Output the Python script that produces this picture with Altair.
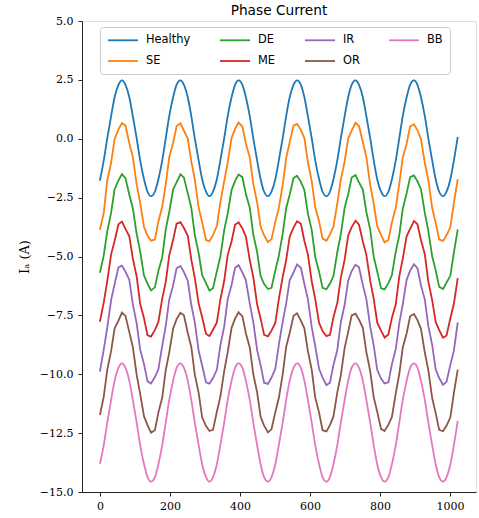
import altair as alt
import pandas as pd

# sample positions (x index)
x_vals = [0, 11, 21, 32, 42, 53, 63, 73, 84, 94, 105, 115, 126, 136, 146, 157, 167, 178, 188, 198,
          209, 219, 230, 240, 251, 261, 271, 282, 292, 303, 313, 323, 334, 344, 355, 365, 376, 386, 396, 407,
          417, 428, 438, 449, 459, 469, 480, 490, 501, 511, 522, 532, 542, 553, 563, 574, 584, 594, 605, 615,
          626, 636, 647, 657, 667, 678, 688, 699, 709, 719, 730, 740, 751, 761, 772, 782, 792, 803, 813, 824,
          834, 845, 855, 865, 876, 886, 897, 907, 917, 928, 938, 949, 959, 969, 980, 990, 1001, 1011, 1022]

healthy = [-1.78, -0.92,
           0.02, 0.96, 1.76, 2.29, 2.48, 2.29, 1.76, 0.96, 0.02, -0.92, -1.72, -2.25, -2.44, -2.25, -1.72, -0.92,
           0.02, 0.96, 1.76, 2.29, 2.48, 2.29, 1.76, 0.96, 0.02, -0.92, -1.72, -2.25, -2.44, -2.25, -1.72, -0.92,
           0.02, 0.96, 1.76, 2.29, 2.48, 2.29, 1.76, 0.96, 0.02, -0.92, -1.72, -2.25, -2.44, -2.25, -1.72, -0.92,
           0.02, 0.96, 1.76, 2.29, 2.48, 2.29, 1.76, 0.96, 0.02, -0.92, -1.72, -2.25, -2.44, -2.25, -1.72, -0.92,
           0.02, 0.96, 1.76, 2.29, 2.48, 2.29, 1.76, 0.96, 0.02, -0.92, -1.72, -2.25, -2.44, -2.25, -1.72, -0.92,
           0.02, 0.96, 1.76, 2.29, 2.48, 2.29, 1.76, 0.96, 0.02, -0.92, -1.72, -2.25, -2.44, -2.25, -1.72, -0.92,
           0.08]

se = [-3.87, -3.15,
      -1.76, -1.02, -0.01, 0.40, 0.67, 0.56, -0.19, -0.78, -1.94, -2.72, -3.75, -4.12, -4.33, -4.28, -3.51, -2.88,
      -1.94, -0.78, -0.19, 0.54, 0.65, 0.34, 0.01, -0.96, -1.74, -2.92, -3.55, -4.30, -4.35, -4.08, -3.71, -2.70,
      -1.80, -1.00, 0.03, 0.42, 0.69, 0.52, -0.21, -0.80, -1.92, -2.70, -3.73, -4.10, -4.39, -4.26, -3.53, -2.94,
      -1.98, -0.82, -0.15, 0.56, 0.63, 0.38, 0.03, -1.00, -1.80, -2.90, -3.51, -4.24, -4.33, -4.06, -3.73, -2.74,
      -1.74, -0.96, 0.01, 0.34, 0.68, 0.54, -0.15, -0.78, -1.96, -2.76, -3.71, -4.08, -4.40, -4.30, -3.55, -2.92,
      -1.92, -0.80, -0.21, 0.52, 0.62, 0.36, -0.01, -1.02, -1.76, -2.94, -3.57, -4.28, -4.34, -4.10, -3.75, -2.72,
      -1.72]

de = [-5.69, -4.95,
      -3.92, -3.15, -2.14, -1.77, -1.50, -1.67, -2.38, -2.95, -4.04, -4.79, -5.81, -6.15, -6.44, -6.31, -5.61, -5.03,
      -3.86, -3.11, -2.16, -1.85, -1.51, -1.65, -2.32, -2.93, -4.08, -4.85, -5.79, -6.13, -6.45, -6.35, -5.63, -5.01,
      -3.88, -3.17, -2.18, -1.79, -1.52, -1.63, -2.36, -2.93, -4.06, -4.81, -5.83, -6.17, -6.38, -6.33, -5.59, -4.97,
      -4.04, -2.95, -2.38, -1.67, -1.57, -1.83, -2.18, -3.17, -3.88, -5.03, -5.65, -6.33, -6.39, -6.15, -5.83, -4.81,
      -4.06, -2.93, -2.36, -1.65, -1.54, -1.85, -2.16, -3.11, -3.86, -5.01, -5.63, -6.35, -6.40, -6.13, -5.79, -4.79,
      -4.10, -2.97, -2.32, -1.63, -1.56, -1.81, -2.14, -3.15, -3.92, -4.99, -5.59, -6.29, -6.38, -6.11, -5.81, -4.83,
      -3.85]

me = [-7.77, -6.95,
      -6.05, -4.91, -4.34, -3.63, -3.52, -3.83, -4.14, -5.09, -5.85, -7.01, -7.62, -8.35, -8.40, -8.13, -7.78, -6.79,
      -6.09, -4.95, -4.30, -3.61, -3.54, -3.79, -4.12, -5.13, -5.91, -6.99, -7.58, -8.29, -8.38, -8.11, -7.80, -6.83,
      -6.03, -4.93, -4.36, -3.65, -3.55, -3.81, -4.16, -5.15, -5.87, -7.03, -7.64, -8.33, -8.39, -8.15, -7.82, -6.81,
      -5.87, -5.15, -4.16, -3.77, -3.50, -3.61, -4.34, -4.91, -6.05, -6.81, -7.82, -8.17, -8.38, -8.33, -7.58, -6.97,
      -5.91, -5.13, -4.12, -3.75, -3.48, -3.65, -4.36, -4.93, -6.03, -6.79, -7.80, -8.15, -8.44, -8.31, -7.60, -7.03,
      -5.85, -5.09, -4.14, -3.83, -3.49, -3.63, -4.30, -4.91, -6.07, -6.85, -7.78, -8.13, -8.45, -8.35, -7.62, -7.01,
      -5.92]

ir = [-9.89, -8.95,
      -8.02, -6.85, -6.17, -5.46, -5.39, -5.64, -5.99, -7.03, -7.84, -8.95, -9.57, -10.30, -10.39, -10.12, -9.79, -8.79,
      -7.96, -6.83, -6.23, -5.50, -5.40, -5.66, -6.03, -7.05, -7.80, -8.99, -9.63, -10.34, -10.40, -10.16, -9.81, -8.77,
      -7.98, -6.81, -6.21, -5.48, -5.37, -5.68, -6.01, -6.99, -7.78, -8.97, -9.61, -10.36, -10.41, -10.14, -9.77, -8.75,
      -7.78, -6.99, -6.01, -5.68, -5.34, -5.48, -6.17, -6.81, -8.00, -8.81, -9.77, -10.14, -10.46, -10.36, -9.61, -8.97,
      -7.80, -7.05, -6.03, -5.62, -5.35, -5.46, -6.21, -6.81, -7.98, -8.77, -9.81, -10.18, -10.39, -10.34, -9.57, -8.93,
      -7.84, -7.03, -5.99, -5.60, -5.33, -5.50, -6.23, -6.83, -7.96, -8.75, -9.79, -10.16, -10.45, -10.32, -9.59, -8.99,
      -7.80]

orr = [-11.73, -10.95,
       -9.81, -9.02, -8.05, -7.72, -7.38, -7.52, -8.21, -8.84, -10.03, -10.83, -11.79, -12.16, -12.48, -12.38, -11.63, -10.99,
       -9.83, -9.08, -8.07, -7.66, -7.39, -7.50, -8.25, -8.84, -10.01, -10.79, -11.83, -12.20, -12.41, -12.36, -11.59, -10.95,
       -9.87, -9.06, -8.03, -7.64, -7.37, -7.54, -8.27, -8.86, -9.99, -10.77, -11.81, -12.18, -12.47, -12.34, -11.61, -11.01,
       -10.01, -8.84, -8.25, -7.52, -7.41, -7.72, -8.05, -9.02, -9.81, -10.99, -11.63, -12.38, -12.43, -12.16, -11.79, -10.77,
       -10.05, -8.88, -8.21, -7.50, -7.43, -7.68, -8.03, -9.06, -9.87, -10.97, -11.59, -12.32, -12.41, -12.14, -11.81, -10.81,
       -9.99, -8.86, -8.27, -7.54, -7.44, -7.70, -8.07, -9.08, -9.83, -11.01, -11.65, -12.36, -12.42, -12.18, -11.83, -10.79,
       -9.80]

bb = [-13.80, -13.01,
      -12.05, -11.09, -10.28, -9.73, -9.54, -9.73, -10.28, -11.09, -12.05, -13.01, -13.82, -14.37, -14.56, -14.37, -13.82, -13.01,
      -12.05, -11.09, -10.28, -9.73, -9.54, -9.73, -10.28, -11.09, -12.05, -13.01, -13.82, -14.37, -14.56, -14.37, -13.82, -13.01,
      -12.05, -11.09, -10.28, -9.73, -9.54, -9.73, -10.28, -11.09, -12.05, -13.01, -13.82, -14.37, -14.56, -14.37, -13.82, -13.01,
      -12.05, -11.09, -10.28, -9.73, -9.54, -9.73, -10.28, -11.09, -12.05, -13.01, -13.82, -14.37, -14.56, -14.37, -13.82, -13.01,
      -12.05, -11.09, -10.28, -9.73, -9.54, -9.73, -10.28, -11.09, -12.05, -13.01, -13.82, -14.37, -14.56, -14.37, -13.82, -13.01,
      -12.05, -11.09, -10.28, -9.73, -9.54, -9.73, -10.28, -11.09, -12.05, -13.01, -13.82, -14.37, -14.56, -14.37, -13.82, -13.01,
      -11.98]

series_names = ["Healthy", "SE", "DE", "ME", "IR", "OR", "BB"]
series_values = [healthy, se, de, me, ir, orr, bb]
series_colors = ["#1f77b4", "#ff7f0e", "#2ca02c", "#d62728", "#9467bd", "#8c564b", "#e377c2"]
smooth_series = ["Healthy", "BB"]

x_ticks = [0, 200, 400, 600, 800, 1000]
y_ticks = [-15.0, -12.5, -10.0, -7.5, -5.0, -2.5, 0.0, 2.5, 5.0]

rows = []
for i, (name, vals) in enumerate(zip(series_names, series_values)):
    for xv, yv in zip(x_vals, vals):
        rows.append({"x": xv, "y": yv, "series": name, "order": i,
                     "smooth": name in smooth_series})
df = pd.DataFrame(rows)

x_enc = alt.X("x:Q",
              scale=alt.Scale(domain=[-51.15, 1074.15], nice=False, zero=False),
              axis=alt.Axis(values=x_ticks, title=None, format="d", grid=False,
                            tickSize=4, labelPadding=4, labelFont="DejaVu Serif",
                            labelFontSize=11, labelColor="#000", tickColor="#222",
                            domainColor="#222"))
y_enc = alt.Y("y:Q",
              scale=alt.Scale(domain=[-15, 5], nice=False, zero=False),
              axis=alt.Axis(values=y_ticks, format=".1f", grid=False, title="Iₐ (A)",
                            tickSize=4, labelPadding=5, labelFont="DejaVu Serif",
                            labelFontSize=11, labelColor="#000", tickColor="#222",
                            domainColor="#222", titleFont="DejaVu Serif",
                            titleFontSize=13, titleFontWeight="normal", titleColor="#000",
                            titleX=-58, titleY=235.5, titleAlign="center",
                            titleBaseline="middle", titleAngle=270))
color_enc = alt.Color("series:N",
                      scale=alt.Scale(domain=series_names, range=series_colors),
                      legend=alt.Legend(orient="none", legendX=18, legendY=6, columns=4,
                                        direction="vertical",
                                        title=None, symbolType="M-3,0H3", symbolSize=100,
                                        symbolStrokeWidth=1.8, symbolOffset=10,
                                        labelOffset=17, labelFont="DejaVu Sans",
                                        labelFontSize=11.4, labelColor="#000",
                                        columnPadding=25, rowPadding=9, padding=7,
                                        fillColor="white", strokeColor="#cccccc",
                                        cornerRadius=3))

base = alt.Chart(df).encode(x=x_enc, y=y_enc, color=color_enc, detail="series:N", order="order:Q")

noisy = base.transform_filter("!datum.smooth").mark_line(strokeWidth=1.8, interpolate="linear")
smooth = base.transform_filter("datum.smooth").mark_line(strokeWidth=1.8, interpolate="monotone")

chart = alt.layer(smooth, noisy).properties(
    width=394,
    height=471,
    title=alt.TitleParams("Phase Current", font="DejaVu Sans", fontSize=13.7,
                          fontWeight="normal", color="#000", anchor="middle",
                          baseline="alphabetic", offset=0, dy=14),
    padding={"left": 82, "top": 21, "right": 3, "bottom": 26},
    autosize=alt.AutoSizeParams(type="none"),
).configure_view(stroke="#222", strokeWidth=1).configure(background="white")

chart.save("out.html", embed_options={"renderer": "svg", "actions": False})
